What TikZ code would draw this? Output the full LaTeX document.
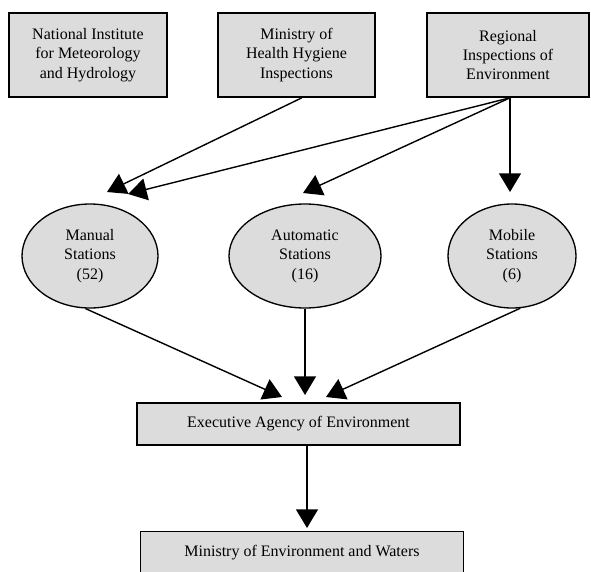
\documentclass[tikz,border=0pt]{standalone}
\usepackage{fontspec}
\setmainfont{Liberation Serif}
\usetikzlibrary{arrows.meta,shapes.geometric}
\definecolor{boxgray}{RGB}{220,220,220}
\begin{document}
\begin{tikzpicture}[x=0.75pt,y=-0.75pt,
  every node/.style={font=\fontsize{12pt}{14.6pt}\selectfont, align=center, inner sep=0pt},
  topbox/.style={draw=black, line width=1.2pt, fill=boxgray, minimum height=63pt},
  flatbox/.style={draw=black, line width=1.2pt, fill=boxgray, minimum height=31.5pt, minimum width=242pt},
  station/.style={ellipse, draw=black, line width=1pt, fill=boxgray, minimum height=78pt},
  arr/.style={line width=1.05pt, -{Triangle[length=14pt,width=16.5pt]}}]
\useasboundingbox (0,0) rectangle (591,571);
% top boxes
\node[topbox, minimum width=118.5pt] (nimh) at (88,55) {National Institute\\for Meteorology\\and Hydrology};
\node[topbox, minimum width=117.75pt] (min) at (296.5,55) {Ministry of\\Health Hygiene\\Inspections};
\node[topbox, minimum width=121.5pt] (reg) at (508,55) {Regional\\Inspections of\\Environment};
% stations
\node[station, minimum width=102pt] (man) at (90,256) {Manual\\Stations\\(52)};
\node[station, minimum width=114pt] (aut) at (305,256) {Automatic\\Stations\\(16)};
\node[station, minimum width=96pt] (mob) at (512,256) {Mobile\\Stations\\(6)};
% lower boxes
\node[flatbox] (exe) at (298.5,424) {Executive Agency of Environment};
\node[flatbox] (mew) at (302,552.5) {Ministry of Environment and Waters};
% arrow tips
\coordinate (tA) at (107,192);
\coordinate (tB) at (128,194);
\coordinate (tC) at (303,193);
\coordinate (tD) at (510,192);
\coordinate (tE) at (282,397);
\coordinate (tF) at (305,395);
\coordinate (tG) at (326,397);
\coordinate (tH) at (307,528);
% connectors
\draw[arr] ([xshift=4pt]min.south) -- (tA);
\draw[arr] ([xshift=1.5pt]reg.south) -- (tB);
\draw[arr] ([xshift=1.5pt]reg.south) -- (tC);
\draw[arr] ([xshift=1.5pt]reg.south) -- (tD);
\draw[arr] (man.265) -- (tE);
\draw[arr] (aut.south) -- (tF);
\draw[arr] (mob.279) -- (tG);
\draw[arr] (tH |- exe.south) -- (tH);
\end{tikzpicture}
\end{document}
